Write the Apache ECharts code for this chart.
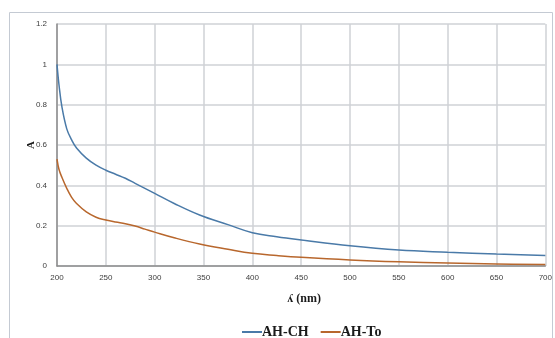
<!DOCTYPE html>
<html>
<head>
<meta charset="utf-8">
<script src="https://cdn.jsdelivr.net/npm/echarts@6/dist/echarts.min.js"></script>
<style>
  html, body { margin: 0; padding: 0; background: #fff; }
  #chart { width: 555px; height: 338px; }
</style>
</head>
<body>
<div id="chart"></div>
<script>
// wavelength (nm)
const wavelengths = [200, 202, 205, 210, 215, 220, 230, 240, 250, 260, 270, 280, 290, 300, 320, 346, 375, 400, 425, 450, 500, 550, 600, 650, 700];
const ahCh = [1.0, 0.9, 0.79, 0.68, 0.625, 0.585, 0.535, 0.5, 0.475, 0.455, 0.435, 0.41, 0.385, 0.36, 0.31, 0.253, 0.205, 0.165, 0.145, 0.129, 0.10, 0.079, 0.068, 0.059, 0.052];
const ahTo = [0.53, 0.48, 0.44, 0.385, 0.34, 0.31, 0.268, 0.242, 0.228, 0.218, 0.21, 0.198, 0.183, 0.168, 0.14, 0.109, 0.083, 0.063, 0.052, 0.043, 0.03, 0.021, 0.015, 0.01, 0.007];
const seriesNames = ['AH-CH', 'AH-To'];

function pairs(ys) {
    let arr = []
    for (let i = 0; i < wavelengths.length; i++) {
        arr.push([wavelengths[i], ys[i]])
    }
    return arr
}

let myChart = echarts.init(document.getElementById('chart'));
let option = {
    animation: false,
    graphic: [{
        type: 'rect',
        shape: { x: 9.5, y: 12.5, width: 543, height: 340 },
        style: { fill: 'none', stroke: '#c4cad3', lineWidth: 1 },
        silent: true
    }],
    grid: {
        left: 57,
        right: 8,
        top: 24,
        bottom: 72
    },
    legend: {
        top: 320,
        left: 237,
        itemWidth: 20,
        itemHeight: 2,
        itemGap: 12,
        icon: 'rect',
        textStyle: {
            fontFamily: 'Liberation Serif',
            fontWeight: 'bold',
            fontSize: 14,
            color: '#1a1a1a',
            padding: [0, 0, 0, -5]
        },
        data: seriesNames
    },
    xAxis: {
        type: 'value',
        min: 200,
        max: 700,
        interval: 50,
        name: 'ʎ (nm)',
        nameLocation: 'middle',
        nameGap: 27,
        nameTextStyle: {
            fontFamily: 'Liberation Serif',
            fontWeight: 'bold',
            fontSize: 12,
            color: '#1a1a1a',
            padding: [0, 0, 0, 6]
        },
        axisLabel: { color: '#404040', fontSize: 8, margin: 8 },
        axisLine: { lineStyle: { color: '#8c8c8c', width: 1.5 } },
        axisTick: { show: false },
        splitLine: { show: true, lineStyle: { color: '#cfd2d6', width: 1.5 } }
    },
    yAxis: {
        type: 'value',
        min: 0,
        max: 1.2,
        interval: 0.2,
        name: 'A',
        nameLocation: 'middle',
        nameRotate: 90,
        nameGap: 20,
        nameMoveOverlap: false,
        nameTextStyle: {
            fontFamily: 'Liberation Serif',
            fontWeight: 'bold',
            fontSize: 11,
            color: '#1a1a1a'
        },
        axisLabel: {
            color: '#404040',
            fontSize: 8,
            margin: 10,
            formatter: function (v) { return String(Math.round(v * 10) / 10) }
        },
        axisLine: { show: true, lineStyle: { color: '#8c8c8c', width: 1.5 } },
        axisTick: { show: false },
        splitLine: { show: true, lineStyle: { color: '#cfd2d6', width: 1.5 } }
    },
    series: [
        {
            name: seriesNames[0],
            type: 'line',
            smooth: 0.4,
            showSymbol: false,
            color: '#4a7aa8',
            lineStyle: { width: 1.5 },
            data: pairs(ahCh)
        },
        {
            name: seriesNames[1],
            type: 'line',
            smooth: 0.4,
            showSymbol: false,
            color: '#b8672d',
            lineStyle: { width: 1.5 },
            data: pairs(ahTo)
        }
    ]
};
myChart.setOption(option);
</script>
</body>
</html>
